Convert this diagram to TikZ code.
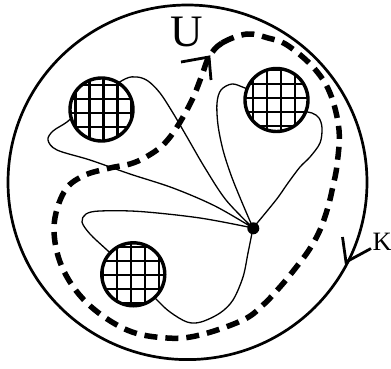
\documentclass[tikz,border=0pt]{standalone}
\usepackage{fontspec}
\setmainfont{Liberation Serif}
\begin{document}
\begin{tikzpicture}[x=1pt,y=-1pt,
  outer/.style={line width=2.7pt},
  loopline/.style={line width=1.3pt},
  gridline/.style={line width=2.4pt},
  discborder/.style={line width=3.4pt},
  dashcurve/.style={line width=5.5pt, dash pattern=on 13pt off 8pt},
  barb/.style={line width=2.8pt},
  dotnode/.style={circle, fill=black, inner sep=0pt, minimum size=12pt},
  bigfont/.style={font=\fontsize{45}{45}\selectfont, inner sep=0pt},
  midfont/.style={font=\fontsize{26.5}{26.5}\selectfont, inner sep=0pt}]
\useasboundingbox (0,0) rectangle (391,369);
\fill[white] (0,0) rectangle (391,369);

% outer circle K
\draw[outer] (187.5,182.3) ellipse[x radius=179.5pt, y radius=177.3pt];

% loops
\draw[loopline] plot[smooth, tension=0.55] coordinates {(253,228) (226,200) (205,168) (187,137) (173,113) (160,93) (148,81) (137,77) (125,79) (100,95) (80,110) (67,122) (53,131) (48,140) (57,150) (90,160) (130,174) (173,188) (215,206) (253,228)};
\draw[loopline] plot[smooth, tension=0.55] coordinates {(253,228) (241,200) (231,175) (223,150) (218,125) (217,103) (221,90) (232,84) (245,88) (270,98) (300,110) (312,113) (319,118) (322,128) (320,143) (310,157) (300,167) (288,183) (276,200) (253,228)};
\draw[loopline] plot[smooth, tension=0.55] coordinates {(253,228) (200,218) (140,211.5) (100,211) (86,214) (82,222) (90,234) (107,250) (133,274) (157,300) (170,312) (187,322) (201,322) (220,313) (233,300) (243,277) (248,253) (253,228)};

% hatched discs
\foreach \cx/\cy/\ox/\oy/\nm in {101.5/109.5/2/3.5/d1, 276.5/100/4.5/-2/d2, 133.3/274.3/-2.3/0.7/d3} {
  \begin{scope}[shift={(\cx,\cy)}]
    \coordinate (\nm) at (0,0);
    \fill[white] (0,0) circle[radius=31.5pt];
    \begin{scope}
      \clip (0,0) circle[radius=31.5pt];
      \foreach \k in {-3,...,3} {
        \draw[gridline] ({\ox+14*\k},-40) -- ({\ox+14*\k},40);
        \draw[gridline] (-40,{\oy+14*\k}) -- (40,{\oy+14*\k});
      }
    \end{scope}
    \draw[discborder] (0,0) circle[radius=31.5pt];
  \end{scope}
}

% dashed curve U
\draw[dashcurve] plot[smooth cycle, tension=0.6] coordinates {(209,57) (222,43) (247,34) (268,38) (287,45) (313,67) (330,93) (339,130) (337,165) (333,186) (328,207) (320,230) (309,250) (294,270) (280,287) (263,305) (243,320) (200,335) (167,338) (127,330) (87,303) (62,267) (54,227) (64,192) (83,176) (110,168) (130,164) (146,157) (163,145) (177,127) (192,100) (202,75)};

% central point
\node[dotnode] (p) at (253.3,228.3) {};

% arrow marks
\coordinate (utip) at (209,57);
\coordinate (ub1) at (181,62);
\coordinate (ub2) at (211,80);
\draw[barb] (ub1) -- (utip) -- (ub2);
\coordinate (ktip) at (346,262);
\coordinate (kb1) at (342.5,237);
\coordinate (kb2) at (371,248.5);
\draw[barb] (kb1) -- (ktip) -- (kb2);

% labels
\node[bigfont, anchor=base] (U) at (187,47) {U};
\node[midfont, anchor=base west] (K) at (372.5,250.5) {K};
\end{tikzpicture}
\end{document}
